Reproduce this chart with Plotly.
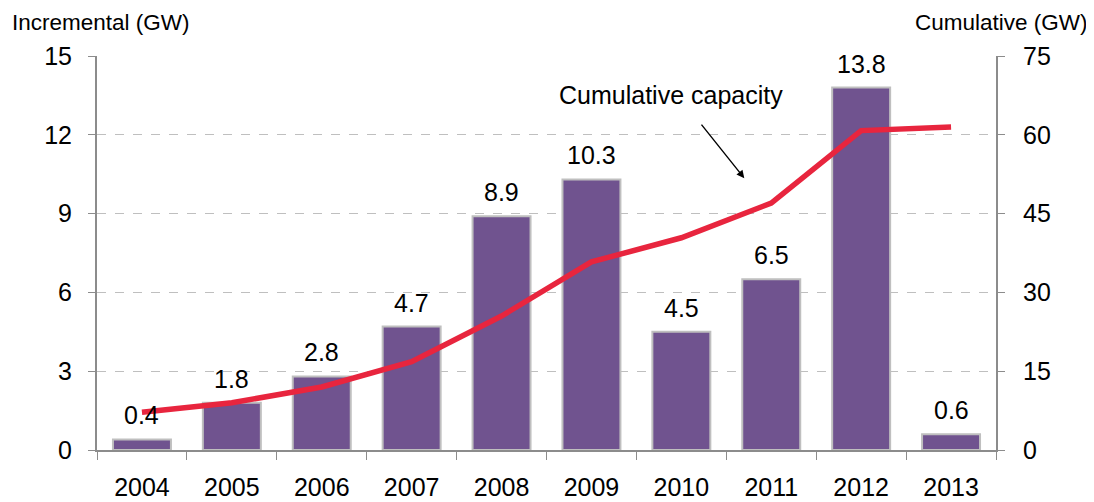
import plotly.graph_objects as go

years = ['2004', '2005', '2006', '2007', '2008', '2009', '2010', '2011', '2012', '2013']
incremental = [0.4, 1.8, 2.8, 4.7, 8.9, 10.3, 4.5, 6.5, 13.8, 0.6]
cumulative = [7.2, 9.0, 12.0, 16.8, 25.5, 35.8, 40.4, 47.0, 60.8, 61.5]

left_ticks = [0, 3, 6, 9, 12, 15]
right_ticks = [0, 15, 30, 45, 60, 75]

font_name = 'Liberation Sans, Arial, sans-serif'
axis_grey = '#8C8C8C'

fig = go.Figure()

# bars with incremental capacity
fig.add_trace(go.Bar(
    x=years,
    y=incremental,
    marker=dict(color='#70538F', line=dict(color='#BFBFBF', width=2)),
    width=0.645,
    showlegend=False,
))

# cumulative line on the right axis
fig.add_trace(go.Scatter(
    x=years,
    y=cumulative,
    mode='lines',
    line=dict(color='#E8253E', width=5.5),
    yaxis='y2',
    showlegend=False,
))

# value labels above the bars (category index as x, so '2004' is not read as a position)
labels = [
    dict(x=i, y=v, xref='x', yref='y', text=f'{v:.1f}', showarrow=False,
         yanchor='bottom', yshift=8, font=dict(size=25))
    for i, v in enumerate(incremental)
]

# page body has an 8px margin, so the figure is a bit smaller than the window
fig.update_layout(
    width=1086,
    height=494,
    margin=dict(l=89, r=98, t=48, b=52),
    plot_bgcolor='white',
    paper_bgcolor='white',
    font=dict(family=font_name, size=25, color='black'),
    xaxis=dict(
        type='category',
        range=[-0.5, 9.5],
        automargin=False,
        showline=True, linecolor=axis_grey, linewidth=2,
        ticks='outside', tickson='boundaries', ticklen=8, tickcolor=axis_grey,
        ticklabelstandoff=14,
        showgrid=False,
    ),
    yaxis=dict(
        range=[0, 15],
        tickvals=left_ticks,
        automargin=False,
        showline=True, linecolor=axis_grey, linewidth=2,
        ticks='outside', ticklen=7, tickcolor=axis_grey,
        ticklabelstandoff=11,
        showgrid=True, gridcolor='#BFBFBF', griddash='dash', gridwidth=1,
        zeroline=False,
    ),
    yaxis2=dict(
        range=[0, 75],
        tickvals=right_ticks,
        overlaying='y',
        side='right',
        automargin=False,
        showline=True, linecolor=axis_grey, linewidth=2,
        ticks='outside', ticklen=7, tickcolor=axis_grey,
        ticklabelstandoff=13,
        showgrid=False,
        zeroline=False,
    ),
    annotations=labels + [
        dict(text='Incremental (GW)', xref='paper', yref='paper',
             x=-0.0968, y=1.086, xanchor='left', yanchor='middle',
             showarrow=False, font=dict(size=22.5)),
        dict(text='Cumulative (GW)', xref='paper', yref='paper',
             x=1.1046, y=1.086, xanchor='right', yanchor='middle',
             showarrow=False, font=dict(size=22.5)),
        dict(text='Cumulative capacity', xref='paper', yref='paper',
             x=0.6385, y=0.901, xanchor='center', yanchor='middle',
             showarrow=False, font=dict(size=25)),
        dict(x=0.72, y=0.690, xref='paper', yref='paper',
             ax=-44, ay=-55,
             showarrow=True, arrowhead=2, arrowsize=1.1, arrowwidth=1.4,
             arrowcolor='black', text=''),
    ],
)

fig.write_html('out.html')
